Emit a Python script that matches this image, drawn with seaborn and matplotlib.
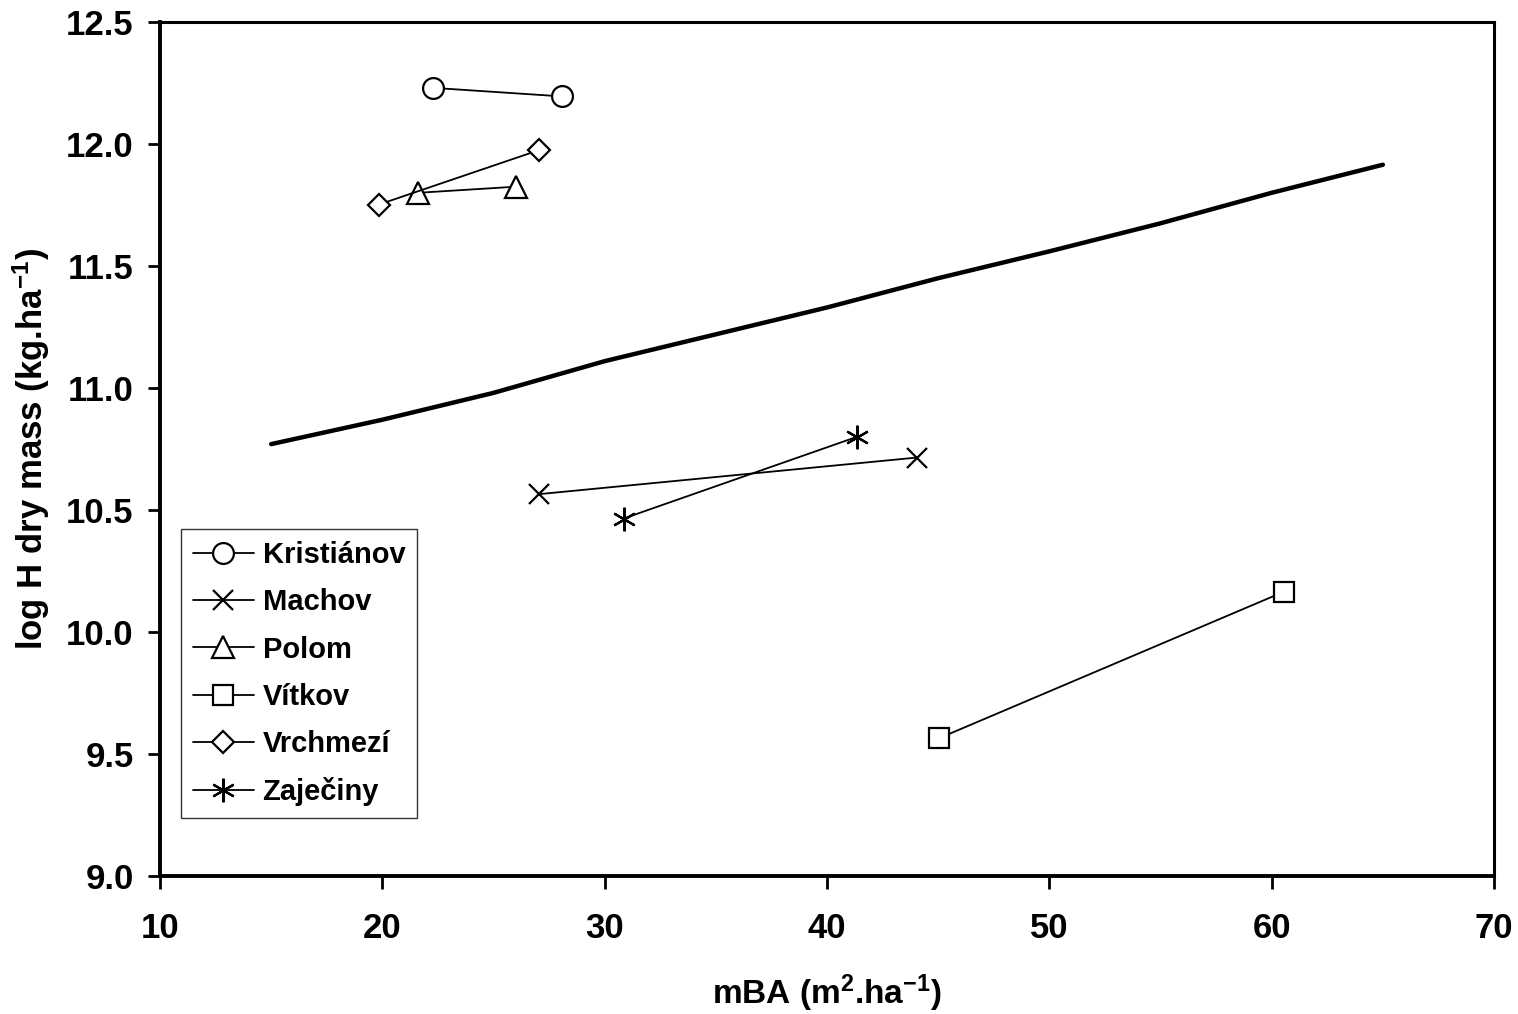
import matplotlib
matplotlib.use("Agg")
import matplotlib.pyplot as plt
import seaborn as sns
import pandas as pd

sns.set_style("white")
plt.rcParams['font.family'] = ['Liberation Sans', 'DejaVu Sans']
plt.rcParams['mathtext.default'] = 'regular'
plt.rcParams['text.color'] = 'black'
plt.rcParams['axes.labelcolor'] = 'black'
plt.rcParams['xtick.color'] = 'black'
plt.rcParams['ytick.color'] = 'black'

# data
sites = ["Kristiánov", "Machov", "Polom", "Vítkov", "Vrchmezí", "Zaječiny"]
kristianov_x = [22.3, 28.1]
kristianov_y = [12.23, 12.195]
machov_x = [27.05, 44.05]
machov_y = [10.565, 10.715]
polom_x = [21.6, 26.0]
polom_y = [11.80, 11.825]
vitkov_x = [45.05, 60.55]
vitkov_y = [9.565, 10.165]
vrchmezi_x = [19.85, 27.05]
vrchmezi_y = [11.752, 11.975]
zajeciny_x = [30.85, 41.35]
zajeciny_y = [10.465, 10.80]
trend_x = [15, 20, 25, 30, 35, 40, 45, 50, 55, 60, 65]
trend_y = [10.77, 10.87, 10.98, 11.11, 11.22, 11.33, 11.45, 11.56, 11.675, 11.80, 11.915]
x_ticks = [10, 20, 30, 40, 50, 60, 70]
y_ticks = [9.0, 9.5, 10.0, 10.5, 11.0, 11.5, 12.0, 12.5]

series_x = [kristianov_x, machov_x, polom_x, vitkov_x, vrchmezi_x, zajeciny_x]
series_y = [kristianov_y, machov_y, polom_y, vitkov_y, vrchmezi_y, zajeciny_y]
markers = ['o', 'x', '^', 's', 'D', (6, 2, 0)]
msizes = [15, 15, 16, 15, 11, 17]

fig = plt.figure(figsize=(15.18, 10.14), dpi=100)
ax = fig.add_axes([0.1054, 0.1361, 0.8788, 0.8422])

sns.lineplot(x=trend_x, y=trend_y, ax=ax, color='black', linewidth=3.2, legend=False)

for name, xs, ys, m, ms in zip(sites, series_x, series_y, markers, msizes):
    df = pd.DataFrame({"x": xs, "y": ys})
    sns.lineplot(data=df, x="x", y="y", ax=ax, color='black', linewidth=1.3,
                 marker=m, markersize=ms, markerfacecolor='white',
                 markeredgecolor='black', markeredgewidth=1.6, label=name)

ax.set_xlim(10, 70)
ax.set_ylim(9.0, 12.5)
ax.set_xticks(x_ticks)
ax.set_yticks(y_ticks)
ax.set_xticklabels([str(t) for t in x_ticks])
ax.set_yticklabels([f"{t:.1f}" for t in y_ticks])

for s in ['top', 'right']:
    ax.spines[s].set_visible(True)
    ax.spines[s].set_linewidth(2.2)
    ax.spines[s].set_color('black')
for s in ['left', 'bottom']:
    ax.spines[s].set_linewidth(2.8)
    ax.spines[s].set_color('black')

ax.tick_params(axis='both', which='major', direction='out', length=9, width=2,
               labelsize=25, color='black', labelcolor='black',
               bottom=True, left=True, top=False, right=False)
ax.tick_params(axis='x', pad=17)
ax.tick_params(axis='y', pad=10)
for lab in ax.get_xticklabels() + ax.get_yticklabels():
    lab.set_fontweight('bold')

ax.set_xlabel(r"mBA (m$^{2}$.ha$^{-1}$)", fontsize=24, fontweight='bold', labelpad=20)
ax.set_ylabel(r"log H dry mass (kg.ha$^{-1}$)", fontsize=25, fontweight='bold', labelpad=10)

leg = ax.legend(loc='lower left', bbox_to_anchor=(0.0157, 0.0679), borderaxespad=0,
                fancybox=False, frameon=True, edgecolor='black',
                prop={'size': 21, 'weight': 'bold'}, handlelength=2.1,
                labelspacing=0.66, handletextpad=0.3, borderpad=0.4, markerscale=1.0)
leg.get_frame().set_linewidth(1.0)
for t in leg.get_texts():
    t.set_color('black')

fig.savefig("out.png", dpi=100, facecolor='white')
